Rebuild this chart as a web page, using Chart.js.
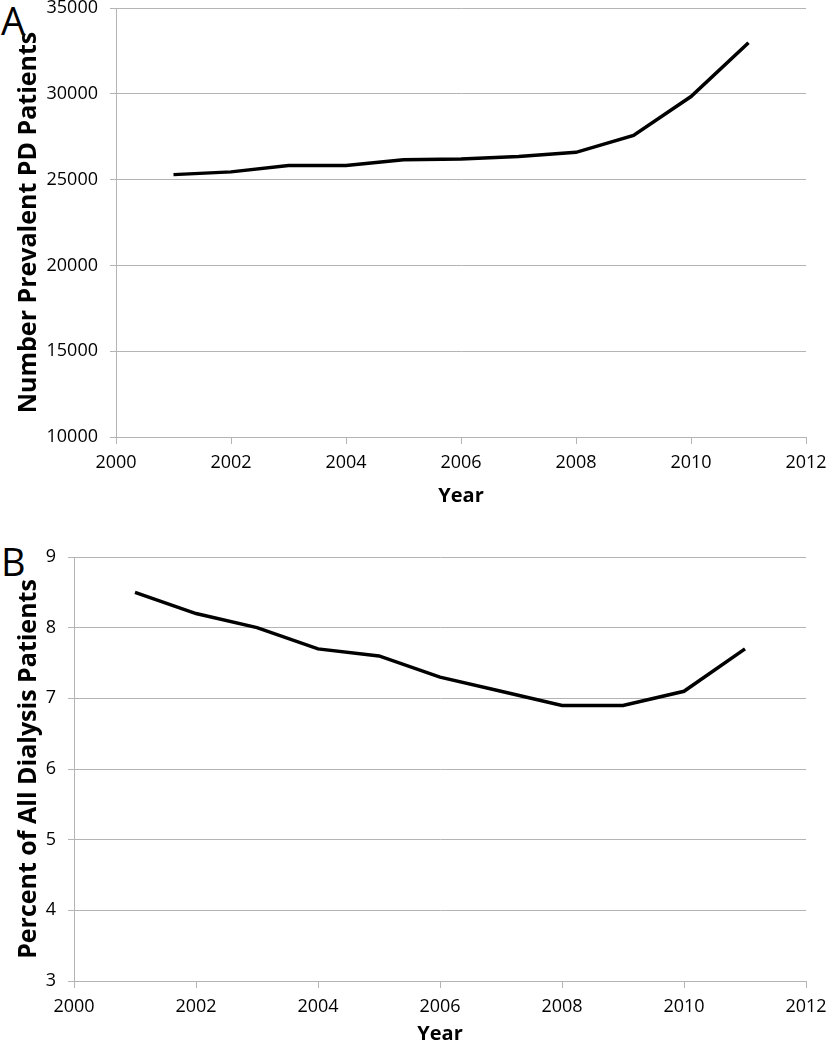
<!DOCTYPE html>
<html>
<head>
<meta charset="utf-8">
<script src="https://cdn.jsdelivr.net/npm/chart.js@4"></script>
<style>
  body { margin: 0; background: #fff; }
  .wrap { position: absolute; left: 0; width: 827px; height: 520px; }
  .tag { position: absolute; left: 1px; font: 38px/1 "Open Sans", sans-serif; color: #000; }
</style>
</head>
<body>
<div class="tag" style="top:1px">A</div>
<div class="tag" style="top:542px">B</div>
<div class="wrap" style="top:0"><canvas id="chartA"></canvas></div>
<div class="wrap" style="top:530px"><canvas id="chartB"></canvas></div>
<script>
var years = [2001, 2002, 2003, 2004, 2005, 2006, 2007, 2008, 2009, 2010, 2011];
var pdPatients = [25290, 25450, 25820, 25820, 26150, 26200, 26350, 26590, 27580, 29840, 32980];
var pctDialysis = [8.5, 8.2, 8.0, 7.7, 7.6, 7.3, 7.1, 6.9, 6.9, 7.1, 7.7];

var gridGray = '#b4b4b4';
var tickFont = { family: 'Open Sans', size: 18 };
var yearFont = { family: 'Open Sans', size: 20, weight: 'bold' };
var yTitleFont = { family: 'Open Sans', size: 25, weight: 'bold' };

// pad: [top, bottom]; leftW / bottomH pin the plot area
function makeChart(id, values, yMin, yMax, yStep, yTitle, leftW, bottomH, pad) {
  return new Chart(id, {
    type: 'line',
    data: {
      datasets: [{
        data: years.map(function (y, i) { return { x: y, y: values[i] }; }),
        borderColor: '#000',
        borderWidth: 3.5,
        pointRadius: 0,
        tension: 0,
        fill: false
      }]
    },
    options: {
      responsive: true,
      maintainAspectRatio: false,
      animation: false,
      layout: { padding: { left: 10, right: 21, top: pad[0], bottom: pad[1] } },
      plugins: { legend: { display: false }, tooltip: { enabled: false } },
      scales: {
        x: {
          type: 'linear', min: 2000, max: 2012,
          ticks: { stepSize: 2, color: '#000', font: tickFont, padding: 8,
                   callback: function (v) { return String(v); } },
          grid: { drawOnChartArea: false, color: gridGray, tickLength: 7 },
          border: { display: false },
          title: { display: true, text: 'Year', color: '#000', font: yearFont, padding: { top: 8 } },
          afterFit: function (s) { s.height = bottomH; s.paddingLeft = 0; s.paddingRight = 0; }
        },
        y: {
          min: yMin, max: yMax,
          ticks: { stepSize: yStep, color: '#000', font: tickFont, padding: 12,
                   callback: function (v) { return String(v); } },
          grid: { color: gridGray, tickLength: 6 },
          border: { display: true, color: gridGray },
          title: { display: true, text: yTitle, color: '#000', font: yTitleFont },
          afterFit: function (s) { s.width = leftW - 10; s.paddingTop = 0; s.paddingBottom = 0; }
        }
      }
    }
  });
}

makeChart('chartA', pdPatients, 10000, 35000, 5000, 'Number Prevalent PD Patients', 116, 75, [8, 8]);
makeChart('chartB', pctDialysis, 3, 9, 1, 'Percent of All Dialysis Patients', 74, 69, [27, 0]);
</script>
</body>
</html>
